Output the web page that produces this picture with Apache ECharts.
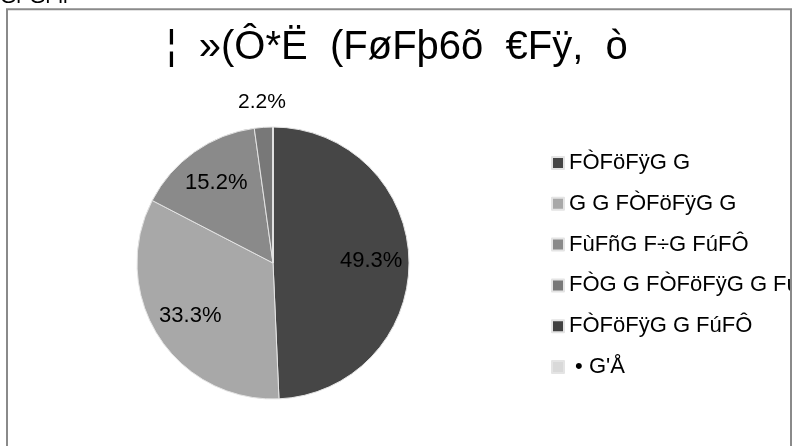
<!DOCTYPE html>
<html>
<head>
<meta charset="utf-8">
<script src="https://cdn.jsdelivr.net/npm/echarts@6/dist/echarts.min.js"></script>
<style>
  html, body { margin: 0; padding: 0; background: #fff; }
  #chart { width: 792px; height: 446px; }
</style>
</head>
<body>
<div id="chart"></div>
<script>
// data (percent of total)
var categories = ['FÒFöFÿG G', 'G G FÒFöFÿG G', 'FùFñG F÷G FúFÔ', 'FÒG G FÒFöFÿG G FúFÔ', 'FÒFöFÿG G FúFÔ', ' • G\'Å'];
var shares = [49.3, 33.3, 15.2, 2.2, 0, 0];
var sliceColors = ['#464646', '#a8a8a8', '#8a8a8a', '#787878', '#414141', '#d9d9d9'];
var titleText = '¦  »(Ô*Ë  (FøFþ6õ  €Fÿ,  ò';
var cornerText = 'Gr Gr ii';

var font = "'Liberation Sans', Arial, sans-serif";
var cx = 273, cy = 263, r = 136;

var myChart = echarts.init(document.getElementById('chart'));

var mainData = categories.map(function (name, i) {
    return { name: name, value: shares[i], itemStyle: { color: sliceColors[i] } };
});
var plainData = categories.map(function (name, i) {
    return { name: name, value: shares[i] };
});

var option = {
    backgroundColor: '#ffffff',
    animation: false,
    graphic: [
        {
            type: 'rect',
            shape: { x: 7, y: 9.3, width: 784, height: 460 },
            style: { fill: 'none', stroke: '#8a8a8a', lineWidth: 2 },
            z: 100
        },
        {
            type: 'text',
            x: 0, y: 8,
            style: { text: cornerText, font: '21px ' + font, fill: '#000', textVerticalAlign: 'bottom' }
        },
        {
            type: 'text',
            x: 397, y: 48,
            style: {
                text: titleText, font: '40px ' + font, fill: '#000',
                textAlign: 'center', textVerticalAlign: 'middle'
            }
        }
    ],
    legend: {
        orient: 'vertical',
        left: 551,
        top: 152,
        padding: 0,
        icon: 'rect',
        itemWidth: 12,
        itemHeight: 12,
        itemGap: 18.8,
        itemTextGap: 6,
        selectedMode: false,
        data: categories,
        textStyle: { color: '#000', fontSize: 22, fontFamily: font, lineHeight: 22 }
    },
    series: [
        {
            name: 'main',
            type: 'pie',
            center: [cx, cy],
            radius: r,
            startAngle: 90,
            clockwise: true,
            silent: true,
            label: { show: false },
            labelLine: { show: false },
            itemStyle: { borderColor: '#e4e4e4', borderWidth: 1 },
            data: mainData
        },
        {
            // labels for the big slices, sitting at ~0.7 of the radius
            name: 'labelsIn',
            type: 'pie',
            center: [cx, cy],
            radius: [r * 0.4, r],
            startAngle: 90,
            silent: true,
            itemStyle: { color: 'rgba(0,0,0,0)' },
            label: {
                show: true,
                position: 'inside',
                color: '#000',
                fontSize: 22,
                fontFamily: font,
                formatter: function (p) { return p.value >= 5 ? p.value.toFixed(1) + '%' : ''; }
            },
            labelLine: { show: false },
            data: plainData
        },
        {
            // outside label for the small slice
            name: 'labelsOut',
            type: 'pie',
            center: [cx, cy],
            radius: [r, r + 44],
            startAngle: 90,
            silent: true,
            itemStyle: { color: 'rgba(0,0,0,0)' },
            label: {
                show: true,
                position: 'inside',
                color: '#000',
                fontSize: 21,
                fontFamily: font,
                formatter: function (p) { return (p.value > 0 && p.value < 5) ? p.value.toFixed(1) + '%' : ''; }
            },
            labelLine: { show: false },
            data: plainData
        }
    ]
};

myChart.setOption(option);
window.addEventListener('resize', function () {
    myChart.resize();
});
</script>
</body>
</html>
